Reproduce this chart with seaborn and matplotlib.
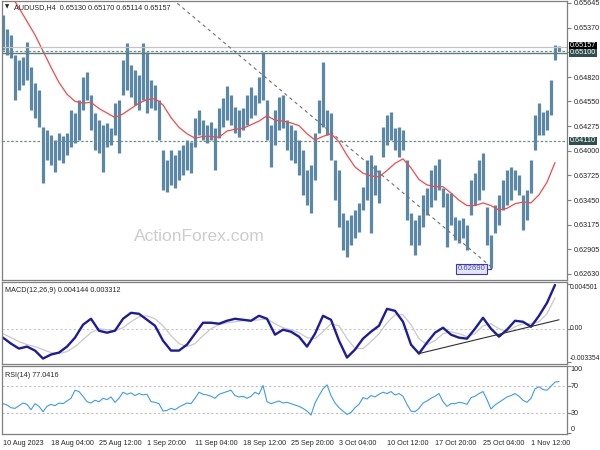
import numpy as np
import matplotlib.pyplot as plt
import seaborn as sns

sns.set_style("white")
plt.rcParams['font.family'] = ['Liberation Sans', 'DejaVu Sans']

# AUDUSD H4, one entry per drawn bar
bar_high = [0.6551, 0.6535, 0.6529, 0.6507, 0.6501, 0.6504, 0.6521, 0.6493, 0.6475, 0.6468,
            0.6426, 0.6423, 0.6418, 0.6412, 0.6420, 0.6416, 0.6420, 0.6445, 0.6442, 0.6457,
            0.6482, 0.6488, 0.6462, 0.6442, 0.6434, 0.6429, 0.6431, 0.6425, 0.6453, 0.6457,
            0.6501, 0.6520, 0.6495, 0.6490, 0.6484, 0.6520, 0.6510, 0.6479, 0.6473, 0.6457,
            0.6401, 0.6390, 0.6401, 0.6395, 0.6401, 0.6406, 0.6412, 0.6410, 0.6436, 0.6445,
            0.6434, 0.6429, 0.6432, 0.6425, 0.6448, 0.6459, 0.6472, 0.6462, 0.6449, 0.6445,
            0.6448, 0.6462, 0.6471, 0.6462, 0.6482, 0.6510, 0.6457, 0.6429, 0.6445, 0.6460,
            0.6462, 0.6434, 0.6429, 0.6423, 0.6412, 0.6401, 0.6379, 0.6384, 0.6420, 0.6457,
            0.6499, 0.6445, 0.6442, 0.6390, 0.6379, 0.6331, 0.6323, 0.6329, 0.6334, 0.6342,
            0.6360, 0.6390, 0.6395, 0.6384, 0.6379, 0.6426, 0.6440, 0.6443, 0.6425, 0.6426,
            0.6423, 0.6390, 0.6331, 0.6323, 0.6329, 0.6351, 0.6359, 0.6379, 0.6384, 0.6391,
            0.6359, 0.6353, 0.6353, 0.6326, 0.6323, 0.6325, 0.6317, 0.6367, 0.6375, 0.6390,
            0.6397, 0.6337, 0.6306, 0.6340, 0.6351, 0.6367, 0.6379, 0.6382, 0.6379, 0.6373,
            0.6351, 0.6356, 0.6390, 0.6440, 0.6453, 0.6443, 0.6445, 0.6479, 0.6518, 0.6517]
bar_low = [0.6512, 0.6507, 0.6503, 0.6457, 0.6468, 0.6473, 0.6479, 0.6445, 0.6437, 0.6426,
           0.6364, 0.6390, 0.6384, 0.6376, 0.6390, 0.6386, 0.6395, 0.6404, 0.6409, 0.6412,
           0.6445, 0.6457, 0.6423, 0.6401, 0.6397, 0.6376, 0.6404, 0.6406, 0.6418, 0.6398,
           0.6462, 0.6468, 0.6460, 0.6451, 0.6445, 0.6457, 0.6442, 0.6448, 0.6445, 0.6412,
           0.6356, 0.6354, 0.6362, 0.6359, 0.6367, 0.6373, 0.6379, 0.6375, 0.6404, 0.6418,
           0.6412, 0.6409, 0.6412, 0.6379, 0.6414, 0.6426, 0.6434, 0.6429, 0.6420, 0.6415,
           0.6423, 0.6429, 0.6436, 0.6440, 0.6453, 0.6457, 0.6412, 0.6382, 0.6406, 0.6423,
           0.6425, 0.6401, 0.6390, 0.6386, 0.6373, 0.6351, 0.6340, 0.6331, 0.6367, 0.6420,
           0.6426, 0.6418, 0.6390, 0.6345, 0.6315, 0.6290, 0.6282, 0.6295, 0.6303, 0.6310,
           0.6334, 0.6345, 0.6309, 0.6351, 0.6342, 0.6393, 0.6406, 0.6412, 0.6401, 0.6393,
           0.6401, 0.6323, 0.6295, 0.6284, 0.6295, 0.6315, 0.6329, 0.6337, 0.6345, 0.6356,
           0.6337, 0.6293, 0.6317, 0.6301, 0.6297, 0.6303, 0.6290, 0.6329, 0.6340, 0.6345,
           0.6356, 0.6295, 0.6269, 0.6309, 0.6317, 0.6334, 0.6340, 0.6345, 0.6356, 0.6351,
           0.6312, 0.6323, 0.6353, 0.6401, 0.6418, 0.6418, 0.6423, 0.6440, 0.6501, 0.6511]

# red moving average, sampled every 2nd bar
ma_values = [0.6589, 0.6573, 0.6559, 0.6544, 0.6529, 0.6511, 0.6493, 0.6476, 0.6463, 0.6455,
             0.6453, 0.6454, 0.6447, 0.6442, 0.6437, 0.6441, 0.6447, 0.6453, 0.6457, 0.6458,
             0.6451, 0.6437, 0.6426, 0.6419, 0.6414, 0.6416, 0.6416, 0.6415, 0.6422, 0.6424,
             0.6425, 0.6429, 0.6433, 0.6439, 0.6434, 0.6433, 0.6431, 0.6428, 0.6419, 0.6412,
             0.6416, 0.6419, 0.6410, 0.6395, 0.6382, 0.6375, 0.6372, 0.6371, 0.6378, 0.6386,
             0.6391, 0.6381, 0.6368, 0.6362, 0.6360, 0.6360, 0.6353, 0.6345, 0.6339, 0.6339,
             0.6342, 0.6339, 0.6334, 0.6336, 0.6341, 0.6343, 0.6342, 0.6351, 0.6365, 0.6387]

# MACD(12,26,9), every 2nd bar
macd_main = [-0.0009, -0.0015, -0.0020, -0.0018, -0.0022, -0.0030, -0.0026, -0.0024, -0.0018, -0.0009,
             0.0004, 0.0010, -0.0002, -0.0004, -0.0002, 0.0010, 0.0016, 0.0015, 0.0009, 0.0003,
             -0.0012, -0.0022, -0.0022, -0.0016, -0.0005, 0.0006, 0.0006, 0.0005, 0.0008, 0.0010,
             0.0009, 0.0008, 0.0013, 0.0010, -0.0006, -0.0001, -0.0003, -0.0008, -0.0018, -0.0005,
             0.0013, 0.0009, -0.0012, -0.0029, -0.0021, -0.0010, -0.0003, 0.0003, 0.0020, 0.0018,
             0.0007, -0.0016, -0.0025, -0.0014, -0.0004, 0.0001, -0.0006, -0.0009, -0.0010, 0.0000,
             0.0011, 0.0000, -0.0008, -0.0001, 0.0008, 0.0007, 0.0002, 0.0013, 0.0026, 0.0044]
macd_signal = [-0.0005, -0.0009, -0.0013, -0.0016, -0.0018, -0.0021, -0.0024, -0.0025, -0.0023, -0.0018,
               -0.0011, -0.0004, 0.0000, -0.0001, -0.0002, 0.0001, 0.0007, 0.0012, 0.0013, 0.0010,
               0.0003, -0.0007, -0.0015, -0.0018, -0.0015, -0.0007, 0.0000, 0.0004, 0.0006, 0.0007,
               0.0008, 0.0008, 0.0009, 0.0010, 0.0005, 0.0001, -0.0001, -0.0004, -0.0009, -0.0010,
               -0.0003, 0.0005, 0.0003, -0.0010, -0.0020, -0.0020, -0.0013, -0.0005, 0.0006, 0.0014,
               0.0014, 0.0004, -0.0010, -0.0016, -0.0012, -0.0005, -0.0003, -0.0005, -0.0008, -0.0005,
               0.0003, 0.0005, 0.0000, -0.0003, 0.0002, 0.0005, 0.0005, 0.0007, 0.0015, 0.0031]

# RSI(14), every bar
rsi_values = [44, 42, 38, 37, 41, 45, 43, 35, 44, 40, 32, 40, 43, 41, 45, 44, 48, 52, 64, 62,
              55, 47, 45, 49, 47, 52, 50, 54, 46, 52, 61, 58, 60, 56, 59, 57, 58, 47, 46, 44,
              33, 34, 37, 35, 39, 42, 45, 44, 52, 61, 58, 57, 55, 52, 58, 60, 62, 64, 56, 54,
              55, 52, 55, 61, 58, 71, 47, 44, 46, 48, 45, 46, 44, 42, 40, 37, 33, 27, 45, 56,
              66, 72, 56, 45, 38, 33, 28, 31, 38, 43, 53, 51, 56, 54, 58, 61, 59, 62, 57, 59,
              55, 43, 33, 32, 37, 45, 48, 52, 55, 59, 47, 40, 44, 44, 46, 45, 43, 53, 55, 59,
              62, 50, 36, 42, 46, 50, 54, 56, 59, 55, 49, 46, 52, 66, 69, 65, 64, 70, 76, 77]

date_labels = ['10 Aug 2023', '18 Aug 04:00', '25 Aug 12:00', '1 Sep 20:00', '11 Sep 04:00',
               '18 Sep 12:00', '25 Sep 20:00', '3 Oct 04:00', '10 Oct 12:00', '17 Oct 20:00',
               '25 Oct 04:00', '1 Nov 12:00']
date_bars = [0, 12, 24, 36, 48, 60, 72, 84, 96, 108, 120, 132]
price_ticks = [0.65645, 0.65370, 0.65100, 0.64820, 0.64550, 0.64275, 0.64000,
               0.63725, 0.63450, 0.63175, 0.62905, 0.62630]
macd_ticks = [-0.003354, 0.0, 0.004501]
macd_tick_labels = ['-0.003354', '0.00', '0.004501']
rsi_ticks = [0, 30, 70, 100]
level_high = 0.6510
level_low = 0.6411
bid_price = 0.65157
low_price = 0.6269
low_bar = 122
trend_bars = [42, 122]
trend_prices = [0.6570, 0.6271]
macd_trend_bars = [104, 139]
macd_trend_vals = [-0.0025, 0.0009]

bars = np.arange(len(bar_high))
half = bars[::2]

fig = plt.figure(figsize=(6, 4.5), dpi=100)
ax = fig.add_axes([2/600, 170/450, 565/600, 279/450])
ax_macd = fig.add_axes([2/600, 86/450, 565/600, 82/450], sharex=ax)
ax_rsi = fig.add_axes([2/600, 16/450, 565/600, 68/450], sharex=ax)

small = 5.2
edge = '#7f7f7f'

# ---- price panel ----
ax.vlines(bars, bar_low, bar_high, color='#5a88a6', lw=2.3)
sns.lineplot(x=half, y=ma_values, ax=ax, color='#f24a4a', lw=0.9, sort=False, estimator=None)
ax.axhline(bid_price, color='#c4c4c4', lw=0.9)
ax.axhline(level_high - 0.00008, color='#5e7d7d', lw=1.0)
ax.axhline(level_high + 0.00006, color='#6f8f8f', lw=0.9, ls=(0, (2, 1.5)))
ax.axhline(level_low, color='#6f8f8f', lw=0.9, ls=(0, (2, 1.5)))
ax.plot(trend_bars, trend_prices, color='#707070', lw=0.8, ls=(0, (3, 3)))
ax.plot([low_bar - 1.2, low_bar, low_bar], [low_price - 0.00004, low_price - 0.00004, low_price + 0.0001],
        color='#3a3ab8', lw=0.8)
ax.text(low_bar - 1.4, low_price - 0.00004, f'{low_price:.5f}', ha='right', va='center',
        fontsize=5.6, color='#4a4ac8',
        bbox=dict(boxstyle='square,pad=0.2', fc='#e4e4fa', ec='#3a3ab8', lw=0.8))
ax.text((199 - 2) / 565, 0.155, 'ActionForex.com', transform=ax.transAxes, ha='center',
        va='center', fontsize=12.5, color='#cdcdcd')
ax.text(0.006, 0.978, '\u25bc', transform=ax.transAxes, fontsize=4, va='center', ha='left',
        family=['DejaVu Sans'])
ax.text(0.021, 0.978, 'AUDUSD,H4  0.65130 0.65170 0.65114 0.65157', transform=ax.transAxes,
        fontsize=small, va='center', ha='left')
ax.set_ylim(0.62562, 0.65667)
ax.yaxis.tick_right()
ax.set_yticks(price_ticks)
ax.set_yticklabels(['' if abs(p - level_high) < 1e-6 else f'{p:.5f}' for p in price_ticks])
ytr = ax.get_yaxis_transform()
ax.text(1.005, bid_price + 0.0001, f'{bid_price:.5f}', transform=ytr, fontsize=small, color='white',
        va='center', ha='left', bbox=dict(boxstyle='square,pad=0.1', fc='black', ec='none'))
ax.text(1.005, level_high - 0.0001, f'{level_high:.5f}', transform=ytr, fontsize=small, color='white',
        va='center', ha='left', bbox=dict(boxstyle='square,pad=0.1', fc='#2f4f4f', ec='none'))
ax.text(1.005, level_low, f'{level_low:.5f}', transform=ytr, fontsize=small, color='white',
        va='center', ha='left', bbox=dict(boxstyle='square,pad=0.1', fc='#2f4f4f', ec='none'))
ax.tick_params(axis='x', bottom=False, labelbottom=False)

# ---- MACD panel ----
ax_macd.axhline(0, color='#c8c8c8', lw=0.8, ls=(0, (2, 2)))
sns.lineplot(x=half, y=macd_signal, ax=ax_macd, color='#c9c9c9', lw=0.9, sort=False, estimator=None)
sns.lineplot(x=half, y=macd_main, ax=ax_macd, color='#1c1c9c', lw=1.7, sort=False, estimator=None)
ax_macd.plot(macd_trend_bars, macd_trend_vals, color='#303030', lw=0.8)
ax_macd.text(0.006, 0.9, 'MACD(12,26,9) 0.004144 0.003312', transform=ax_macd.transAxes,
             fontsize=small, va='center', ha='left')
ax_macd.set_ylim(-0.00355, 0.0047)
ax_macd.yaxis.tick_right()
ax_macd.set_yticks(macd_ticks)
ax_macd.set_yticklabels([])
mtr = ax_macd.get_yaxis_transform()
for v, lab, va in zip(macd_ticks, macd_tick_labels, ['bottom', 'center', 'top']):
    ax_macd.text(1.0045, v, lab, transform=mtr, fontsize=4.9, va=va, ha='left')
ax_macd.tick_params(axis='x', bottom=False, labelbottom=False)

# ---- RSI panel ----
ax_rsi.axhline(70, color='#c0c0c0', lw=0.8, ls=(0, (2, 2)))
ax_rsi.axhline(30, color='#c0c0c0', lw=0.8, ls=(0, (2, 2)))
sns.lineplot(x=bars, y=rsi_values, ax=ax_rsi, color='#3d9bf0', lw=0.8, sort=False, estimator=None)
ax_rsi.text(0.006, 0.86, 'RSI(14) 77.0416', transform=ax_rsi.transAxes,
            fontsize=small, va='center', ha='left')
ax_rsi.set_ylim(-1.1, 99.6)
ax_rsi.yaxis.tick_right()
ax_rsi.set_yticks(rsi_ticks)
ax_rsi.set_yticklabels([])
rtr = ax_rsi.get_yaxis_transform()
for v, va in zip(rsi_ticks, ['bottom', 'center', 'center', 'top']):
    ax_rsi.text(1.006, v, str(v), transform=rtr, fontsize=small, va=va, ha='left')
ax_rsi.set_xticks(date_bars)
ax_rsi.set_xticklabels(date_labels, ha='left')
ax_rsi.tick_params(axis='x', length=3, pad=1.5, labelsize=small, color=edge)

for a in (ax, ax_macd, ax_rsi):
    a.set_xlim(-0.25, 141.0)
    a.set_xlabel('')
    a.set_ylabel('')
    a.tick_params(axis='y', length=3, pad=1.5, labelsize=small, color=edge)
    for s in a.spines.values():
        s.set_color(edge)
        s.set_linewidth(0.9)

fig.savefig('out.png', dpi=100)
